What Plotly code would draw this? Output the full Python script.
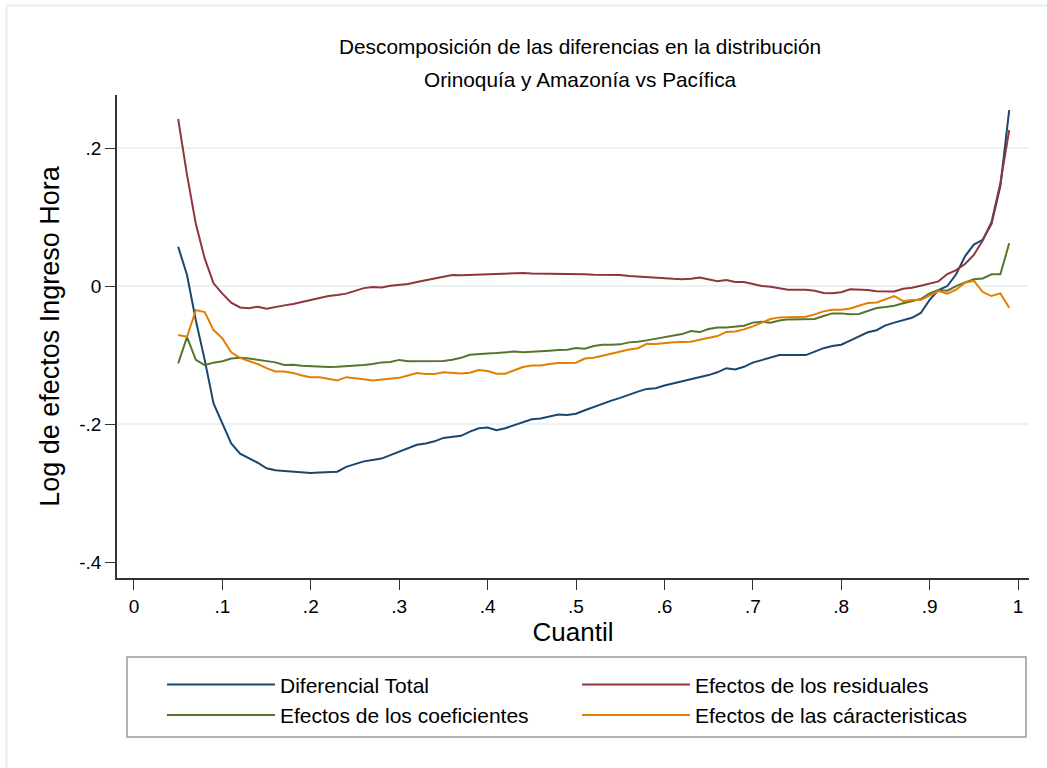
import plotly.graph_objects as go

# Quantile grid (5th to 99th percentile)
cuantiles = [round(k / 100, 2) for k in range(5, 100)]

diferencial_total = [
    0.057, 0.016, -0.050, -0.107, -0.170, -0.200, -0.228, -0.243, -0.249, -0.256,
    -0.264, -0.267, -0.268, -0.269, -0.270, -0.271, -0.270, -0.269, -0.269, -0.262,
    -0.258, -0.254, -0.252, -0.250, -0.245, -0.240, -0.235, -0.230, -0.228, -0.225,
    -0.220, -0.218, -0.217, -0.211, -0.206, -0.205, -0.209, -0.206, -0.202, -0.197,
    -0.193, -0.192, -0.189, -0.186, -0.187, -0.185, -0.180, -0.175, -0.170, -0.166,
    -0.162, -0.157, -0.153, -0.149, -0.148, -0.144, -0.141, -0.139, -0.136, -0.133,
    -0.129, -0.125, -0.119, -0.121, -0.117, -0.111, -0.107, -0.103, -0.100, -0.100,
    -0.100, -0.100, -0.095, -0.090, -0.087, -0.085, -0.079, -0.073, -0.067, -0.064,
    -0.057, -0.053, -0.050, -0.046, -0.039, -0.020, -0.006, 0.000, 0.017, 0.043,
    0.060, 0.067, 0.090, 0.145, 0.255,
]

efectos_residuales = [
    0.242, 0.161, 0.090, 0.040, 0.004, -0.011, -0.024, -0.031, -0.032, -0.030,
    -0.033, -0.030, -0.028, -0.026, -0.023, -0.021, -0.018, -0.0145, -0.013, -0.011,
    -0.007, -0.003, -0.0015, -0.002, 0.0005, 0.002, 0.003, 0.006, 0.0085, 0.0115,
    0.0135, 0.016, 0.0155, 0.016, 0.0165, 0.017, 0.0175, 0.019, 0.0185, 0.019,
    0.018, 0.018, 0.018, 0.0175, 0.0175, 0.0175, 0.017, 0.0165, 0.0165, 0.016,
    0.016, 0.0145, 0.0135, 0.0125, 0.0115, 0.011, 0.0105, 0.010, 0.0105, 0.0125,
    0.0095, 0.007, 0.0087, 0.006, 0.0058, 0.0024, 0.000, -0.001, -0.003, -0.0053,
    -0.0053, -0.0053, -0.0068, -0.010, -0.0106, -0.009, -0.0048, -0.0048, -0.0058, -0.0077,
    -0.008, -0.008, -0.0039, -0.0024, 0.0005, 0.0034, 0.0068, 0.0174, 0.023, 0.032,
    0.045, 0.066, 0.093, 0.149, 0.226,
]

efectos_coeficientes = [
    -0.112, -0.074, -0.107, -0.1145, -0.111, -0.109, -0.105, -0.104, -0.105, -0.107,
    -0.1087, -0.1106, -0.1145, -0.114, -0.1155, -0.1164, -0.117, -0.1174, -0.117, -0.1164,
    -0.116, -0.1145, -0.113, -0.1106, -0.110, -0.107, -0.109, -0.109, -0.109, -0.109,
    -0.1087, -0.1068, -0.104, -0.0995, -0.098, -0.0976, -0.097, -0.096, -0.095, -0.096,
    -0.0955, -0.0947, -0.0937, -0.0928, -0.0923, -0.0899, -0.0908, -0.087, -0.085, -0.085,
    -0.0845, -0.0816, -0.0807, -0.0787, -0.0766, -0.0744, -0.072, -0.0696, -0.0652, -0.0667,
    -0.0623, -0.060, -0.060, -0.059, -0.0575, -0.053, -0.0517, -0.053, -0.050, -0.0483,
    -0.0483, -0.0483, -0.0478, -0.0435, -0.0396, -0.0396, -0.041, -0.0406, -0.0358, -0.0319,
    -0.0304, -0.0285, -0.025, -0.0217, -0.0188, -0.0106, -0.0058, -0.0068, 0.000, 0.0053,
    0.010, 0.011, 0.017, 0.017, 0.062,
]

efectos_caracteristicas = [
    -0.071, -0.0734, -0.0348, -0.0377, -0.0638, -0.0758, -0.096, -0.104, -0.1087, -0.113,
    -0.119, -0.1237, -0.1237, -0.126, -0.1295, -0.132, -0.1323, -0.135, -0.1367, -0.132,
    -0.133, -0.135, -0.1367, -0.1357, -0.134, -0.133, -0.1295, -0.126, -0.1275, -0.1275,
    -0.125, -0.1256, -0.1266, -0.1256, -0.1217, -0.123, -0.127, -0.127, -0.1227, -0.1174,
    -0.115, -0.115, -0.113, -0.1116, -0.1116, -0.111, -0.105, -0.104, -0.101, -0.0976,
    -0.0947, -0.0918, -0.090, -0.0836, -0.084, -0.0826, -0.0816, -0.0812, -0.0807, -0.0778,
    -0.0754, -0.0725, -0.0665, -0.0657, -0.0628, -0.0585, -0.053, -0.0478, -0.0454, -0.0454,
    -0.045, -0.0445, -0.041, -0.0367, -0.0343, -0.0343, -0.0324, -0.028, -0.0246, -0.0237,
    -0.0188, -0.0145, -0.0217, -0.0203, -0.0203, -0.014, -0.0072, -0.011, -0.0053, 0.0048,
    0.0077, -0.0087, -0.0145, -0.0106, -0.0314,
]

x_ticks = [0, 0.1, 0.2, 0.3, 0.4, 0.5, 0.6, 0.7, 0.8, 0.9, 1]
x_tick_labels = ["0", ".1", ".2", ".3", ".4", ".5", ".6", ".7", ".8", ".9", "1"]
y_ticks = [-0.4, -0.2, 0, 0.2]
y_tick_labels = ["-.4", "-.2", "0", ".2"]
y_grid = [-0.2, 0, 0.2]

series = [
    ("Diferencial Total", diferencial_total, "#1A476F"),
    ("Efectos de los residuales", efectos_residuales, "#90353B"),
    ("Efectos de los coeficientes", efectos_coeficientes, "#55752F"),
    ("Efectos de las cáracteristicas", efectos_caracteristicas, "#E37E00"),
]

FONT = "Liberation Sans, Arial, sans-serif"
AXIS_COLOR = "#333333"
GRID_COLOR = "#EAF2F3"

fig = go.Figure()
for name, values, color in series:
    fig.add_trace(go.Scatter(
        x=cuantiles, y=values, name=name, mode="lines",
        line=dict(color=color, width=2),
    ))

# Gridlines only at the inner ticks, drawn from an overlaid axis
fig.add_trace(go.Scatter(x=[None], y=[None], yaxis="y2", showlegend=False,
                         hoverinfo="skip"))

y_range = [-0.423, 0.2768]

fig.update_layout(
    width=1047, height=768,
    margin=dict(l=117, r=18, t=95, b=190, autoexpand=False),
    paper_bgcolor="white", plot_bgcolor="white",
    font=dict(family=FONT, color="#000000"),
    showlegend=True,
    xaxis=dict(
        range=[-0.0192, 1.0124], tickvals=x_ticks, ticktext=x_tick_labels,
        showgrid=False, zeroline=False,
        showline=True, linecolor=AXIS_COLOR, linewidth=1.5,
        ticks="outside", ticklen=10, tickwidth=1.3, tickcolor=AXIS_COLOR,
        tickfont=dict(size=19, family=FONT, color="#000000"),
        title=dict(text="Cuantil", font=dict(size=26, family=FONT, color="#000000"),
                   standoff=3),
    ),
    yaxis=dict(
        range=y_range, tickvals=y_ticks, ticktext=y_tick_labels,
        showgrid=False, zeroline=False,
        showline=True, linecolor=AXIS_COLOR, linewidth=1.5,
        ticks="outside", ticklen=10, tickwidth=1.3, tickcolor=AXIS_COLOR,
        tickfont=dict(size=19, family=FONT, color="#000000"),
        title=dict(text="Log de efectos Ingreso Hora",
                   font=dict(size=27, family=FONT, color="#000000"), standoff=12),
    ),
    yaxis2=dict(
        range=y_range, overlaying="y", tickvals=y_grid, showticklabels=False,
        showgrid=True, gridcolor=GRID_COLOR, gridwidth=2, zeroline=False,
        showline=False, ticks="",
    ),
    legend=dict(
        orientation="h", x=0.0493, xanchor="left", y=-0.179, yanchor="top",
        itemwidth=108, entrywidth=292, entrywidthmode="pixels",
        font=dict(size=21, family=FONT, color="#000000"),
        bgcolor="rgba(0,0,0,0)", borderwidth=0, traceorder="normal",
    ),
    annotations=[
        dict(text="Descomposición de las diferencias en la distribución",
             xref="paper", yref="paper", x=0.5077, y=1.0994, xanchor="center",
             yanchor="middle", showarrow=False,
             font=dict(size=20.8, family=FONT, color="#000000")),
        dict(text="Orinoquía y Amazonía vs Pacífica",
             xref="paper", yref="paper", x=0.5077, y=1.0331, xanchor="center",
             yanchor="middle", showarrow=False,
             font=dict(size=20.8, family=FONT, color="#000000")),
    ],
    shapes=[
        # legend frame
        dict(type="rect", xref="paper", yref="paper",
             x0=0.011, x1=0.9967, y0=-0.1636, y1=-0.3292,
             line=dict(color="#9A9A9A", width=1.5), fillcolor="rgba(0,0,0,0)"),
        # outer graph-region edge (top and left)
        dict(type="line", xref="paper", yref="paper",
             x0=-0.1212, x1=1.02, y0=1.1853, y1=1.1853,
             line=dict(color=GRID_COLOR, width=2.5)),
        dict(type="line", xref="paper", yref="paper",
             x0=-0.1212, x1=-0.1212, y0=1.1853, y1=-0.40,
             line=dict(color=GRID_COLOR, width=2.5)),
    ],
)

fig.write_html("out.html")
